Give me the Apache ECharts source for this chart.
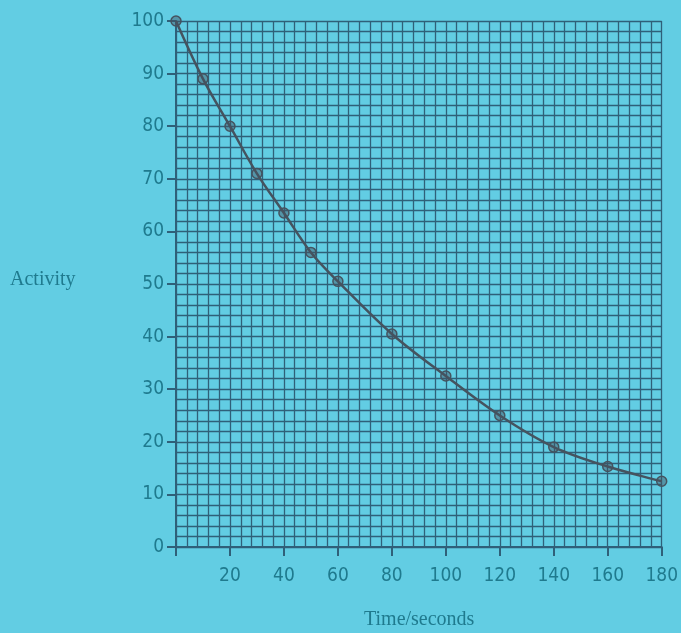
<!DOCTYPE html>
<html>
<head>
<meta charset="utf-8">
<script src="https://cdn.jsdelivr.net/npm/echarts@6/dist/echarts.min.js"></script>
<style>
  html, body { margin: 0; padding: 0; background: #62cde3; }
  #chart { width: 681px; height: 633px; }
</style>
</head>
<body>
<div id="chart"></div>
<script>
var chart = echarts.init(document.getElementById('chart'));

// readings
let times = [0, 10, 20, 30, 40, 50, 60, 80, 100, 120, 140, 160, 180];
let activity = [100, 89, 80, 71, 63.5, 56, 50.5, 40.5, 32.5, 25, 19, 15.3, 12.5];

let points = times.map(function (t, i) { return [t, activity[i]]; });

var gridCol = '#2f6079';
var textCol = '#1f7a8e';
var numFont = '"DejaVu Sans Condensed"';

chart.setOption({
  backgroundColor: '#62cde3',
  grid: { left: 176, right: 16, top: 21, bottom: 86 },
  graphic: [
    {
      type: 'text', left: 10, top: 270,
      style: { text: 'Activity', fill: textCol, font: '20px "Liberation Serif"' }
    },
    {
      type: 'text', left: 364, top: 610,
      style: { text: 'Time/seconds', fill: textCol, font: '20px "Liberation Serif"' }
    }
  ],
  xAxis: {
    type: 'value', min: 0, max: 180, interval: 20,
    axisLine: { show: true, lineStyle: { color: gridCol, width: 2 } },
    axisTick: { show: true, inside: false, length: 9, lineStyle: { color: gridCol, width: 2 } },
    axisLabel: {
      color: textCol, fontSize: 19, margin: 20, fontFamily: numFont,
      formatter: function (v) { return v === 0 ? '' : v; }
    },
    splitLine: { show: true, lineStyle: { color: gridCol, width: 1.3 } },
    minorTick: { show: false, splitNumber: 5 },
    minorSplitLine: { show: true, lineStyle: { color: gridCol, width: 1.3 } }
  },
  yAxis: {
    type: 'value', min: 0, max: 100, interval: 10,
    axisLine: { show: true, lineStyle: { color: gridCol, width: 2 } },
    axisTick: { show: true, inside: false, length: 9, lineStyle: { color: gridCol, width: 2 } },
    axisLabel: { color: textCol, fontSize: 19, margin: 12, fontFamily: numFont },
    splitLine: { show: true, lineStyle: { color: gridCol, width: 1.3 } },
    minorTick: { show: false, splitNumber: 5 },
    minorSplitLine: { show: true, lineStyle: { color: gridCol, width: 1.3 } }
  },
  series: [
    {
      type: 'line',
      data: points,
      smooth: 0.35,
      symbol: 'circle',
      symbolSize: 10,
      z: 5,
      lineStyle: { color: '#45535f', width: 2.5 },
      itemStyle: { color: 'rgba(69,83,95,0.45)', borderColor: '#45535f', borderWidth: 1.5 }
    }
  ]
});
</script>
</body>
</html>
